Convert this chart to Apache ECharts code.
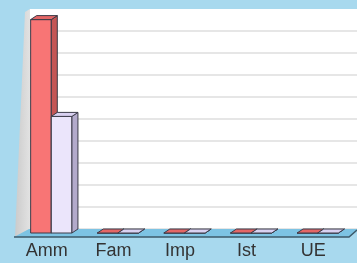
<!DOCTYPE html>
<html>
<head>
<meta charset="utf-8">
<script src="https://cdn.jsdelivr.net/npm/echarts@6/dist/echarts.min.js"></script>
<style>
  html, body { margin: 0; padding: 0; background: #a8d9ee; }
  #chart { width: 357px; height: 263px; }
</style>
</head>
<body>
<div id="chart"></div>
<script>
// categorie e valori
var categories = ['Amm', 'Fam', 'Imp', 'Ist', 'UE'];
var seriesA = [97, 0, 0, 0, 0];   // rosso
var seriesB = [53, 0, 0, 0, 0];   // lilla
var yMax = 100, yStep = 10;

// colori delle facce: frontale / lato / sopra
var palette = [
    { front: '#f87575', side: '#c45656', top: '#e46666' },
    { front: '#ebe5fb', side: '#b3aacb', top: '#d9d1f1' }
];
var DX = 6, DY = -4;   // profondita' 3D

function makeRender(idx) {
    return function (params, api) {
        var cat = api.value(0), val = api.value(1);
        var pTop = api.coord([cat, val]);
        var pBase = api.coord([cat, 0]);
        var band = api.size([1, 0])[0];
        var bw = band * 0.31;
        var x0 = idx === 0 ? pTop[0] - bw : pTop[0];
        var yT = pTop[1], yB = pBase[1];
        var c = palette[idx];
        var line = { stroke: '#3b3b48', lineWidth: 1 };
        return {
            type: 'group',
            children: [
                { type: 'rect', shape: { x: x0, y: yT, width: bw, height: yB - yT },
                  style: Object.assign({ fill: c.front }, line) },
                { type: 'polygon', shape: { points: [[x0 + bw, yT], [x0 + bw + DX, yT + DY], [x0 + bw + DX, yB + DY], [x0 + bw, yB]] },
                  style: Object.assign({ fill: c.side }, line) },
                { type: 'polygon', shape: { points: [[x0, yT], [x0 + DX, yT + DY], [x0 + bw + DX, yT + DY], [x0 + bw, yT]] },
                  style: Object.assign({ fill: c.top }, line) }
            ]
        };
    };
}

var chart = echarts.init(document.getElementById('chart'));
chart.setOption({
    backgroundColor: '#a8d9ee',
    animation: false,
    graphic: [
        // parete sinistra
        { type: 'polygon', z: 1, shape: { points: [[30, 9], [30, 229], [15, 237], [25, 12]] },
          style: { fill: { type: 'linear', x: 0, y: 0, x2: 1, y2: 0,
              colorStops: [{ offset: 0, color: '#cbcbcb' }, { offset: 1, color: '#e2e2e2' }] } } },
        // pavimento
        { type: 'polygon', z: 1, shape: { points: [[29, 229], [357, 229], [357, 230], [349, 237], [14, 237]] },
          style: { fill: '#7dc3e3' } },
        { type: 'polyline', z: 1, shape: { points: [[14, 237], [349, 237], [357, 230]] },
          style: { stroke: '#3d5a6a', lineWidth: 1.5, fill: null } }
    ],
    grid: [
        { left: 18, right: 6, top: 13, bottom: 30 },
        { left: 30, right: 0, top: 9, bottom: 34, show: true, backgroundColor: '#ffffff', borderWidth: 0 }
    ],
    xAxis: [
        { type: 'category', gridIndex: 0, data: categories,
          axisLine: { show: false }, axisTick: { show: false },
          axisLabel: { color: '#333333', fontSize: 18, fontFamily: 'Liberation Sans, Arial, sans-serif',
                       margin: 9, padding: [0, 9, 0, 0] } },
        { type: 'category', gridIndex: 1, data: categories, show: false }
    ],
    yAxis: [
        { type: 'value', gridIndex: 0, min: 0, max: yMax, interval: yStep, show: false },
        { type: 'value', gridIndex: 1, min: 0, max: yMax, interval: yStep,
          axisLine: { show: false }, axisTick: { show: false }, axisLabel: { show: false },
          splitLine: { show: true, showMaxLine: false, lineStyle: { color: '#dedede', width: 1.5 } } }
    ],
    series: [
        { type: 'custom', xAxisIndex: 0, yAxisIndex: 0, z: 3, renderItem: makeRender(0),
          data: seriesA.map(function (v, i) { return [i, v]; }) },
        { type: 'custom', xAxisIndex: 0, yAxisIndex: 0, z: 3, renderItem: makeRender(1),
          data: seriesB.map(function (v, i) { return [i, v]; }) }
    ]
});
</script>
</body>
</html>
